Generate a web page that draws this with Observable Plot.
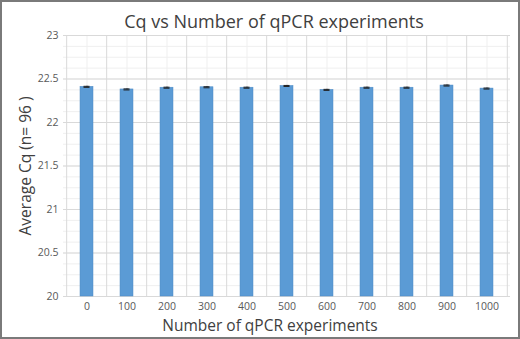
<!DOCTYPE html>
<html>
<head>
<meta charset="utf-8">
<script src="https://cdn.jsdelivr.net/npm/d3@7"></script>
<script src="https://cdn.jsdelivr.net/npm/@observablehq/plot@0.6"></script>
<style>
  html, body { margin: 0; padding: 0; background: #fff; }
  #frame { position: relative; width: 520px; height: 339px; box-sizing: border-box; border: 2px solid #7a7a7a; background: #fff; overflow: hidden; }
  #title { position: absolute; left: 14px; top: 7px; width: 100%; text-align: center; font-family: "Open Sans", sans-serif; font-size: 18px; color: #404040; z-index: 2; }
  #chart { position: absolute; left: 0; top: 0; }
</style>
</head>
<body>
<div id="frame">
  <div id="title">Cq vs Number of qPCR experiments</div>
  <div id="chart"></div>
</div>
<script>
const experiments = ["0","100","200","300","400","500","600","700","800","900","1000"];
const avgCq = [22.41, 22.38, 22.40, 22.405, 22.40, 22.42, 22.375, 22.40, 22.40, 22.425, 22.39];
const errCq = [0.006, 0.006, 0.006, 0.006, 0.006, 0.006, 0.006, 0.006, 0.006, 0.006, 0.006];
const yMajorTicks = [20, 20.5, 21, 21.5, 22, 22.5, 23];
const yMinorTicks = d3.range(20, 23.0001, 0.125);

const data = experiments.map((e, i) => ({e, v: avgCq[i], err: errCq[i]}));

const W = 516, H = 335, mL = 61, mR = 8, mT = 33, mB = 41;
const step = (W - mL - mR) / experiments.length;

const chart = Plot.plot({
  width: W, height: H,
  marginLeft: mL, marginRight: mR, marginTop: mT, marginBottom: mB,
  style: {fontFamily: "'Open Sans', sans-serif", fontSize: "10.5px", color: "#595959", background: "transparent"},
  x: {domain: experiments, paddingInner: 0.68, paddingOuter: 0.34, label: null},
  y: {domain: [20, 23], label: null},
  marks: [
    Plot.ruleY(yMinorTicks, {stroke: "#efefef", strokeWidth: 1}),
    Plot.ruleX(experiments, {stroke: "#efefef", strokeWidth: 1}),
    Plot.ruleY(yMajorTicks, {stroke: "#d9d9d9", strokeWidth: 1}),
    Plot.ruleX(experiments, {dx: -step / 2, stroke: "#d9d9d9", strokeWidth: 1}),
    Plot.ruleX([experiments[experiments.length - 1]], {dx: step / 2, stroke: "#d9d9d9", strokeWidth: 1}),
    Plot.axisY({ticks: yMajorTicks, tickSize: 0, tickPadding: 5, tickFormat: d => `${d}`, fontSize: 10.5,
      label: "Average Cq (n= 96 )", labelAnchor: "center", labelArrow: "none", labelOffset: 44}),
    Plot.axisX({tickSize: 0, tickPadding: 6, fontSize: 10.5,
      label: "Number of qPCR experiments", labelAnchor: "center", labelArrow: "none", labelOffset: 34}),
    Plot.barY(data, {x: "e", y1: 20, y2: "v", fill: "#5b9bd5", stroke: "#4f8ac4", strokeWidth: 0.5}),
    Plot.ruleX(data, {x: "e", y1: d => d.v - d.err, y2: d => d.v + d.err, stroke: "#222", strokeWidth: 1}),
    Plot.tickY(data, {x: "e", y: d => d.v + d.err, stroke: "#222", strokeWidth: 1, insetLeft: 3.5, insetRight: 3.5}),
    Plot.tickY(data, {x: "e", y: d => d.v - d.err, stroke: "#222", strokeWidth: 1, insetLeft: 3.5, insetRight: 3.5})
  ]
});
document.getElementById("chart").appendChild(chart);
chart.querySelectorAll("[aria-label='y-axis label'] text, [aria-label='x-axis label'] text").forEach(t => {
  t.setAttribute("font-size", "15.5");
  t.style.fontSize = "15.5px";
  t.setAttribute("fill", "#404040");
});
const xl = chart.querySelector("[aria-label='x-axis label']");
if (xl) xl.setAttribute("transform", (xl.getAttribute("transform") || "") + " translate(-17,0)");
</script>
</body>
</html>
